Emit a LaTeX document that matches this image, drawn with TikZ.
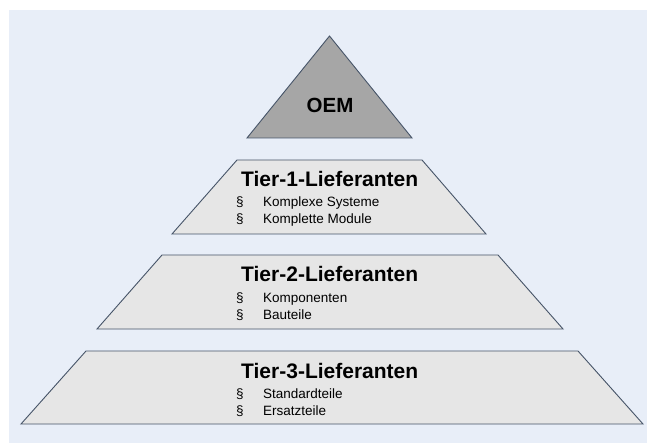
\documentclass[tikz,border=0pt]{standalone}
\usepackage{fontspec}
\setmainfont{Liberation Sans}
\definecolor{bgblue}{RGB}{232,238,248}
\definecolor{oemgray}{RGB}{166,166,166}
\definecolor{tiergray}{RGB}{230,230,230}
\definecolor{edge}{RGB}{70,84,104}

\begin{document}
\begin{tikzpicture}[x=1pt, y=-1pt,
		level/.style={draw=edge, line width=0.9pt, fill=tiergray},
		title/.style={anchor=base west, inner sep=0pt, font=\fontsize{21}{25}\selectfont\bfseries},
		item/.style={anchor=base west, inner sep=0pt, font=\fontsize{13.5}{16}\selectfont}]
		\def\tx{241};
		\def\sx{236};
		\def\ix{263};
	
		\useasboundingbox (0,0) rectangle (647,443);
		\fill[bgblue] (9,10) rectangle (647,443);
		
		% OEM
		\draw[level, fill=oemgray] (247,138) -- (329.5,36) -- (412,138) -- cycle;
		\node[inner sep=0pt, font=\fontsize{20.5}{24}\selectfont\bfseries] (oem) at (330,105) {OEM};
		
		% Tier 1
		\draw[level] (237,160) -- (422,160) -- (486,234) -- (172,234) -- cycle;
		\node[title] (tierone) at (\tx,187) {Tier-1-Lieferanten};
		\node[item] (tieroneparA) at (\sx,207) {\S};
		\node[item] (tieroneA) at (\ix,207) {Komplexe Systeme};
		\node[item] (tieroneparB) at (\sx,224) {\S};
		\node[item] (tieroneB) at (\ix,224) {Komplette Module};
		
		% Tier 2
		\draw[level] (162,255) -- (498,255) -- (563,329) -- (97,329) -- cycle;
		\node[title] (tiertwo) at (\tx,282) {Tier-2-Lieferanten};
		\node[item] (tiertwoparA) at (\sx,302) {\S};
		\node[item] (tiertwoA) at (\ix,302) {Komponenten};
		\node[item] (tiertwoparB) at (\sx,319) {\S};
		\node[item] (tiertwoB) at (\ix,319) {Bauteile};
		
		% Tier 3
		\draw[level] (86,351) -- (578,351) -- (643,424) -- (21,424) -- cycle;
		\node[title] (tierthree) at (\tx,378) {Tier-3-Lieferanten};
		\node[item] (tierthreeparA) at (\sx,398) {\S};
		\node[item] (tierthreeA) at (\ix,398) {Standardteile};
		\node[item] (tierthreeparB) at (\sx,415) {\S};
		\node[item] (tierthreeB) at (\ix,415) {Ersatzteile};
	\end{tikzpicture}
\end{document}
